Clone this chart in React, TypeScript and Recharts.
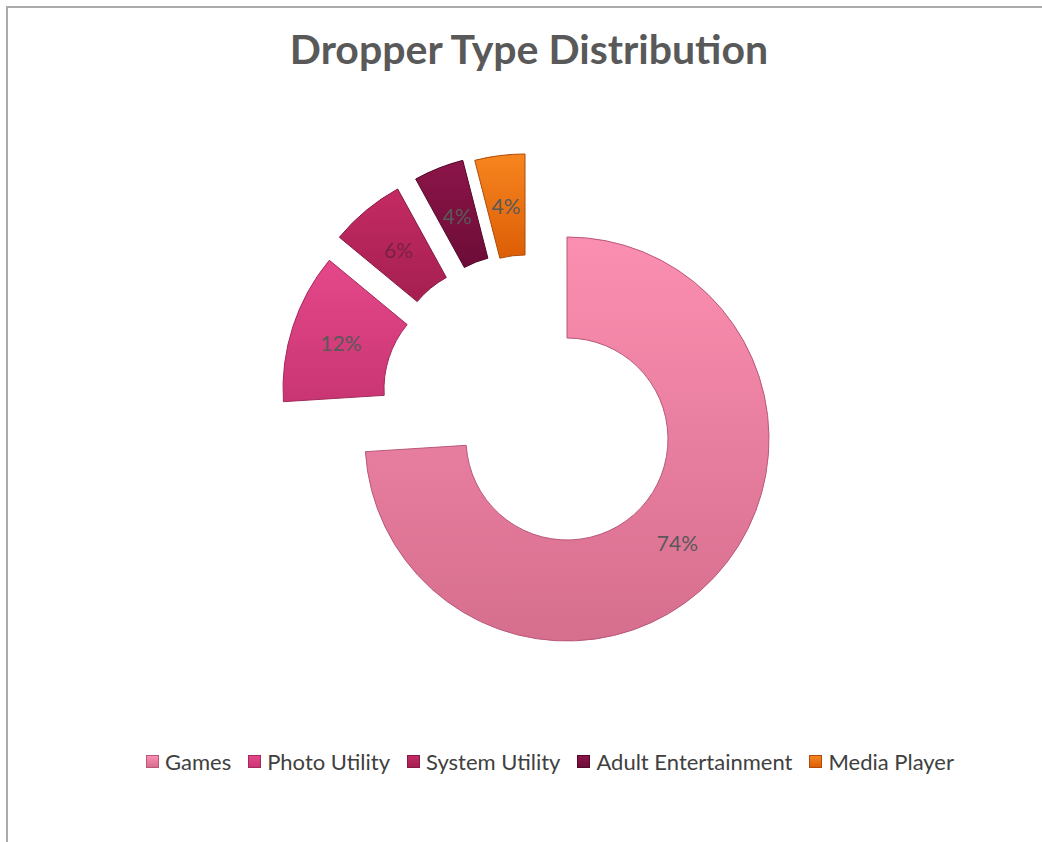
import { PieChart, Pie, Cell, Legend } from "recharts"

const categories = ["Games", "Photo Utility", "System Utility", "Adult Entertainment", "Media Player"]
const shares = [74, 12, 6, 4, 4]

// [top, bottom] gradient stops per slice
const colors = [
  ["#fb8fb1", "#d66e8e"],
  ["#e5488a", "#c93572"],
  ["#c42b63", "#a51f50"],
  ["#8c1549", "#6c0c36"],
  ["#f7851f", "#dc5e06"],
]
const strokes = ["#b8587a", "#a42a5c", "#861a45", "#55082a", "#b04a08"]

// exploded slice shift, px
const offsets = [
  [0, 0],
  [-82, -50],
  [-72, -73],
  [-54, -83],
  [-42, -83],
]

const CX = 567
const CY = 439
const RAD = Math.PI / 180

const data = categories.map((name, i) => ({ name, value: shares[i] }))

const labelFor = (slice: number) => (props: any) => {
  if (props.index !== slice) return null
  const r = (props.innerRadius + props.outerRadius) / 2
  const x = props.cx + r * Math.cos(-props.midAngle * RAD)
  const y = props.cy + r * Math.sin(-props.midAngle * RAD)
  return (
    <text x={x} y={y} textAnchor="middle" dominantBaseline="central" fill={slice === 2 ? "#7a2045" : "#595959"} fontSize={21} fontFamily="Lato">
      {`${Math.round(props.percent * 100)}%`}
    </text>
  )
}

const LegendRow = () => (
  <div style={{ display: "flex", justifyContent: "center", gap: 17, fontFamily: "Lato", fontSize: 22, color: "#404040" }}>
    {categories.map((name, i) => (
      <div key={name} style={{ display: "flex", alignItems: "center", gap: 6 }}>
        <span
          style={{
            display: "inline-block",
            width: 11,
            height: 11,
            background: `linear-gradient(${colors[i][0]}, ${colors[i][1]})`,
            border: `1px solid ${strokes[i]}`,
          }}
        />
        <span>{name}</span>
      </div>
    ))}
  </div>
)

export default function App() {
  return (
    <div style={{ position: "absolute", left: 0, top: 0, width: 1042, height: 842, overflow: "hidden", background: "#fff" }}>
      <div style={{ position: "absolute", left: 6, top: 6, width: 1100, height: 900, borderLeft: "2px solid #ababab", borderTop: "2px solid #ababab" }} />
      <div
        style={{
          position: "absolute",
          left: 0,
          top: 24,
          width: 1058,
          textAlign: "center",
          fontFamily: "Lato",
          fontWeight: 700,
          fontSize: 41,
          color: "#595959",
        }}
      >
        Dropper Type Distribution
      </div>
      <div style={{ position: "absolute", left: 0, top: 0 }}>
        <PieChart width={1042} height={842} margin={{ top: 0, right: 0, bottom: 0, left: 0 }}>
          <defs>
            {colors.map((c, i) => (
              <linearGradient key={i} id={`grad${i}`} x1="0" y1="0" x2="0" y2="1">
                <stop offset="0%" stopColor={c[0]} />
                <stop offset="100%" stopColor={c[1]} />
              </linearGradient>
            ))}
          </defs>
          {offsets.map((o, slice) => (
            <Pie
              key={slice}
              data={data}
              dataKey="value"
              nameKey="name"
              cx={CX + o[0]}
              cy={CY + o[1]}
              innerRadius={101}
              outerRadius={202}
              startAngle={90}
              endAngle={-270}
              isAnimationActive={false}
              labelLine={false}
              label={labelFor(slice)}
              legendType="none"
            >
              {data.map((_, i) => (
                <Cell
                  key={`cell-${i}`}
                  fill={i === slice ? `url(#grad${i})` : "none"}
                  stroke={i === slice ? strokes[i] : "none"}
                  strokeWidth={1}
                />
              ))}
            </Pie>
          ))}
          <Legend
            content={() => <LegendRow />}
            wrapperStyle={{ position: "absolute", left: 0, top: 748, width: 1100 }}
          />
        </PieChart>
      </div>
    </div>
  )
}
